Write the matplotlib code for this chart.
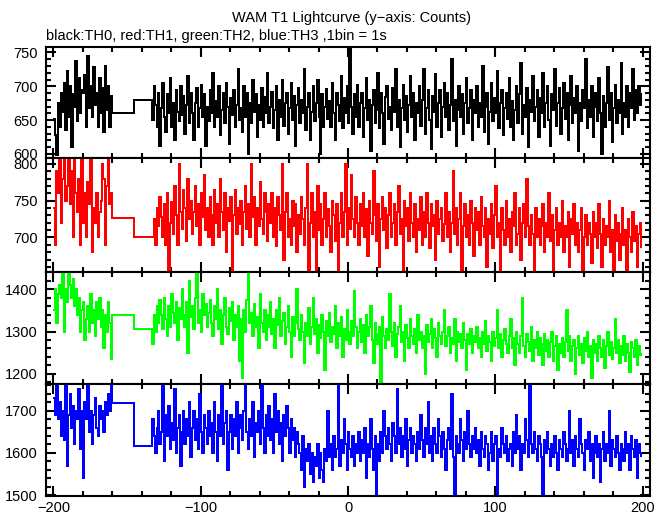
import matplotlib.pyplot as plt
import numpy as np
from matplotlib.ticker import MultipleLocator

plt.rcParams["font.family"] = ["Liberation Sans", "DejaVu Sans"]
plt.rcParams["font.size"] = 10.5

# time bins (1 s), data before the gap, the two filler bins, data after the gap
t_pre = np.arange(-200, -160)
t_gap = np.array([-160, -145])
t_post = np.arange(-133, 200)

black_pre = [652, 628, 598, 676, 640, 690, 662, 705, 635, 722, 655, 700, 610, 688, 670, 738, 648, 712, 660, 695,
             690, 716, 640, 745, 668, 700, 655, 728, 672, 690, 640, 712, 660, 698, 632, 730, 665, 700, 640, 686]
black_gap = [660, 680]
black_post = [
    650, 700, 672, 640, 690, 612, 668, 705, 655, 632, 688, 660, 712, 640, 675, 620, 695, 662, 648, 700,
    658, 685, 630, 672, 715, 645, 690, 660, 620, 676, 698, 640, 668, 702, 655, 688, 612, 670, 648, 694,
    660, 720, 640, 678, 655, 700, 628, 665, 690, 645, 705, 670, 615, 682, 658, 695, 640, 672, 725, 650,
    668, 632, 700, 655, 690, 600, 676, 645, 710, 662, 688, 625, 672, 650, 698, 640, 684, 660, 720, 645,
    670, 692, 638, 665, 700, 620, 680, 655, 710, 642, 675, 690, 630, 668, 705, 650, 685, 612, 672, 698,
    645, 680, 660, 725, 635, 670, 690, 620, 662, 700, 648, 676, 710, 655, 600, 688, 640, 670, 696, 652,
    678, 640, 705, 660, 620, 690, 672, 648, 715, 638, 682, 660, 700, 645, 760, 670, 630, 688, 655, 702,
    640, 675, 690, 625, 668, 712, 650, 680, 605, 672, 695, 645, 665, 720, 638, 690, 660, 615, 684, 700,
    652, 670, 635, 698, 662, 725, 640, 680, 610, 668, 702, 650, 686, 632, 672, 715, 655, 690, 620, 675,
    660, 700, 642, 680, 725, 630, 668, 695, 650, 608, 685, 662, 718, 640, 676, 695, 625, 670, 705, 655,
    690, 635, 672, 740, 648, 680, 612, 665, 700, 655, 688, 630, 675, 712, 645, 668, 695, 620, 680, 660,
    700, 640, 676, 655, 730, 632, 670, 690, 615, 662, 705, 648, 682, 660, 722, 638, 675, 695, 628, 668,
    690, 652, 712, 640, 678, 620, 665, 700, 645, 688, 735, 630, 672, 655, 698, 610, 680, 662, 715, 648,
    670, 695, 625, 682, 660, 720, 640, 675, 700, 650, 612, 688, 665, 725, 642, 676, 698, 630, 668, 705,
    652, 690, 620, 672, 715, 645, 682, 660, 700, 605, 675, 648, 695, 668, 740, 638, 680, 655, 700, 625,
    670, 690, 648, 712, 660, 600, 685, 640, 675, 728, 650, 690, 618, 668, 702, 645, 680, 660, 735, 630,
    676, 655, 700, 640, 690, 668, 725, 650, 695, 660, 700, 672, 690]

red_pre = [740, 690, 790, 760, 815, 720, 780, 810, 750, 770, 820, 745, 790, 700, 810, 760, 735, 780, 690, 805,
           720, 760, 700, 775, 745, 810, 680, 740, 720, 760, 700, 735, 750, 800, 780, 690, 770, 810, 745, 760]
red_gap = [726, 701]
red_post = [
    700, 725, 690, 740, 715, 755, 728, 700, 745, 690, 760, 650, 720, 748, 705, 770, 730, 690, 800, 735,
    712, 765, 740, 695, 780, 725, 750, 705, 735, 770, 715, 745, 690, 760, 728, 785, 710, 740, 700, 755,
    730, 690, 765, 720, 745, 700, 780, 735, 710, 760, 680, 740, 722, 755, 650, 730, 765, 705, 740, 718,
    750, 690, 735, 770, 712, 745, 700, 800, 728, 755, 690, 740, 715, 775, 725, 705, 760, 735, 695, 745,
    720, 760, 700, 740, 688, 755, 730, 710, 800, 670, 735, 760, 700, 725, 690, 750, 715, 745, 680, 730,
    705, 755, 725, 690, 740, 800, 650, 720, 760, 700, 735, 655, 770, 710, 745, 690, 725, 760, 700, 738,
    715, 680, 750, 730, 695, 745, 655, 720, 760, 700, 735, 800, 690, 740, 712, 785, 725, 700, 755, 720,
    690, 745, 715, 760, 700, 738, 675, 750, 720, 705, 790, 730, 695, 745, 660, 725, 755, 710, 740, 685,
    730, 760, 700, 720, 745, 690, 735, 770, 705, 725, 655, 750, 715, 740, 695, 760, 720, 700, 745, 680,
    725, 710, 755, 690, 735, 700, 760, 720, 685, 745, 715, 730, 670, 750, 705, 725, 740, 695, 718, 760,
    700, 735, 680, 720, 790, 705, 740, 690, 725, 760, 655, 715, 745, 700, 730, 690, 750, 720, 675, 740,
    710, 735, 690, 755, 715, 700, 740, 660, 725, 705, 745, 685, 730, 770, 700, 720, 655, 740, 710, 690,
    750, 700, 725, 680, 735, 715, 760, 690, 705, 740, 670, 720, 745, 700, 780, 715, 690, 730, 705, 655,
    740, 700, 725, 690, 715, 745, 680, 720, 700, 760, 695, 730, 655, 710, 740, 690, 720, 700, 750, 680,
    715, 700, 735, 660, 725, 705, 745, 690, 720, 680, 710, 740, 655, 700, 730, 690, 720, 705, 665, 735,
    700, 720, 685, 745, 705, 660, 725, 690, 715, 700, 750, 680, 710, 655, 730, 695, 720, 670, 705, 740,
    690, 710, 655, 725, 700, 680, 735, 695, 715, 660, 705, 720, 685]

green_pre = [1350, 1400, 1320, 1390, 1410, 1380, 1440, 1300, 1400, 1370, 1440, 1410, 1380, 1425, 1360, 1400,
             1340, 1380, 1300, 1350, 1370, 1280, 1330, 1360, 1300, 1390, 1320, 1350, 1290, 1370, 1330, 1380,
             1310, 1350, 1260, 1340, 1300, 1370, 1320, 1235]
green_gap = [1340, 1307]
green_post = [
    1270, 1340, 1300, 1360, 1320, 1375, 1340, 1305, 1380, 1330, 1290, 1360, 1310, 1390, 1345, 1320, 1370, 1280, 1355, 1330,
    1400, 1340, 1310, 1370, 1250, 1420, 1335, 1360, 1305, 1380, 1440, 1320, 1350, 1300, 1390, 1340, 1365, 1310, 1345, 1375,
    1320, 1290, 1360, 1330, 1400, 1305, 1350, 1270, 1340, 1380, 1310, 1295, 1355, 1325, 1370, 1280, 1340, 1310, 1360, 1230,
    1330, 1190, 1350, 1300, 1375, 1440, 1320, 1345, 1290, 1365, 1310, 1335, 1260, 1390, 1320, 1300, 1350, 1280, 1340, 1310,
    1370, 1295, 1330, 1260, 1350, 1315, 1380, 1290, 1325, 1345, 1270, 1310, 1360, 1300, 1240, 1335, 1290, 1320, 1400, 1305,
    1280, 1340, 1300, 1225, 1320, 1290, 1355, 1270, 1310, 1380, 1295, 1330, 1250, 1315, 1285, 1340, 1300, 1210, 1325, 1290,
    1345, 1275, 1310, 1295, 1360, 1260, 1320, 1290, 1335, 1240, 1305, 1280, 1350, 1300, 1270, 1325, 1290, 1395, 1310, 1260,
    1300, 1330, 1275, 1315, 1250, 1340, 1290, 1310, 1360, 1280, 1225, 1320, 1295, 1270, 1310, 1180, 1335, 1290, 1260, 1305,
    1280, 1390, 1300, 1265, 1320, 1240, 1295, 1310, 1360, 1275, 1300, 1230, 1315, 1285, 1260, 1330, 1290, 1270, 1305, 1250,
    1340, 1280, 1300, 1260, 1290, 1200, 1315, 1275, 1295, 1330, 1260, 1305, 1285, 1240, 1320, 1290, 1270, 1300, 1350, 1265,
    1290, 1310, 1250, 1285, 1270, 1330, 1230, 1300, 1275, 1295, 1260, 1320, 1280, 1210, 1295, 1270, 1305, 1250, 1290, 1275,
    1310, 1260, 1285, 1240, 1300, 1270, 1325, 1255, 1290, 1275, 1230, 1300, 1265, 1285, 1350, 1260, 1295, 1240, 1280, 1305,
    1270, 1250, 1290, 1330, 1260, 1285, 1220, 1300, 1270, 1250, 1290, 1380, 1265, 1240, 1295, 1275, 1255, 1310, 1230, 1280,
    1260, 1300, 1245, 1285, 1270, 1220, 1295, 1255, 1280, 1240, 1275, 1300, 1230, 1265, 1290, 1210, 1270, 1250, 1285, 1240,
    1275, 1350, 1255, 1290, 1230, 1265, 1280, 1200, 1260, 1290, 1245, 1270, 1225, 1285, 1255, 1300, 1240, 1265, 1190, 1280,
    1250, 1270, 1230, 1290, 1260, 1240, 1280, 1215, 1265, 1300, 1245, 1275, 1235, 1260, 1330, 1250, 1280, 1225, 1265, 1245,
    1290, 1230, 1270, 1250, 1205, 1275, 1260, 1240, 1280, 1220, 1265, 1245, 1250]

blue_pre = [1730, 1690, 1760, 1680, 1720, 1640, 1700, 1630, 1760, 1570, 1690, 1740, 1660, 1710, 1620, 1700,
            1680, 1750, 1610, 1700, 1540, 1720, 1680, 1760, 1650, 1700, 1620, 1690, 1730, 1660, 1640, 1710,
            1680, 1700, 1650, 1720, 1690, 1740, 1700, 1760]
blue_gap = [1718, 1617]
blue_post = [
    1680, 1640, 1600, 1660, 1700, 1620, 1650, 1760, 1580, 1690, 1640, 1710, 1610, 1670, 1630, 1750, 1600, 1660, 1690, 1570,
    1650, 1700, 1620, 1680, 1640, 1720, 1590, 1660, 1700, 1630, 1680, 1610, 1740, 1650, 1600, 1690, 1660, 1620, 1700, 1640,
    1670, 1600, 1720, 1650, 1580, 1690, 1640, 1760, 1620, 1670, 1700, 1560, 1650, 1690, 1610, 1680, 1640, 1720, 1600, 1660,
    1690, 1630, 1700, 1760, 1650, 1610, 1680, 1640, 1720, 1590, 1670, 1650, 1700, 1620, 1760, 1660, 1600, 1690, 1640, 1710,
    1630, 1680, 1600, 1740, 1650, 1700, 1620, 1670, 1580, 1690, 1640, 1710, 1660, 1600, 1680, 1630, 1660, 1590, 1650, 1620,
    1600, 1560, 1640, 1520, 1610, 1580, 1620, 1550, 1600, 1530, 1590, 1570, 1620, 1540, 1600, 1560, 1530, 1610, 1580, 1700,
    1590, 1620, 1560, 1640, 1590, 1610, 1760, 1570, 1630, 1600, 1680, 1620, 1560, 1650, 1610, 1590, 1640, 1570, 1620, 1600,
    1650, 1580, 1630, 1600, 1660, 1540, 1620, 1590, 1680, 1610, 1560, 1640, 1500, 1620, 1580, 1650, 1600, 1700, 1640, 1610,
    1660, 1620, 1580, 1670, 1640, 1600, 1750, 1620, 1660, 1590, 1640, 1610, 1680, 1570, 1630, 1660, 1600, 1640, 1620, 1580,
    1650, 1610, 1690, 1630, 1590, 1660, 1620, 1720, 1600, 1640, 1580, 1660, 1620, 1600, 1680, 1640, 1590, 1650, 1610, 1560,
    1630, 1660, 1610, 1740, 1590, 1500, 1640, 1620, 1600, 1680, 1630, 1580, 1650, 1610, 1700, 1620, 1590, 1640, 1610, 1660,
    1600, 1630, 1570, 1650, 1610, 1590, 1640, 1620, 1560, 1600, 1650, 1580, 1620, 1640, 1500, 1610, 1590, 1660, 1620, 1600,
    1640, 1580, 1610, 1620, 1570, 1650, 1600, 1690, 1610, 1640, 1560, 1620, 1600, 1680, 1630, 1590, 1760, 1620, 1600, 1650,
    1610, 1580, 1640, 1620, 1590, 1500, 1630, 1600, 1650, 1610, 1570, 1620, 1590, 1640, 1600, 1560, 1630, 1610, 1590, 1650,
    1620, 1580, 1610, 1700, 1600, 1630, 1570, 1640, 1610, 1590, 1680, 1620, 1600, 1560, 1630, 1610, 1650, 1580, 1620, 1540,
    1600, 1640, 1590, 1620, 1530, 1610, 1650, 1580, 1620, 1600, 1700, 1570, 1630, 1610, 1590, 1640, 1600, 1560, 1620, 1610,
    1580, 1650, 1600, 1620, 1560, 1640, 1610, 1590, 1630, 1540, 1620, 1600, 1590]

panels = [
    ("black", black_pre, black_gap, black_post, (594, 758), 50, 10),
    ("#ff0000", red_pre, red_gap, red_post, (653, 808), 50, 10),
    ("#00ff00", green_pre, green_gap, green_post, (1176, 1441), 100, 20),
    ("#0000ff", blue_pre, blue_gap, blue_post, (1498, 1763), 100, 20),
]

fig = plt.figure(figsize=(6.69, 5.15), dpi=100)
tops = [0.9087, 0.6932, 0.4718, 0.2544, 0.0369]
t = np.concatenate([t_pre, t_gap, t_post])

for i, (color, pre, gap, post, ylim, major, minor) in enumerate(panels):
    ax = fig.add_axes([0.0688, tops[i + 1], 0.9028, tops[i] - tops[i + 1]])
    y = np.concatenate([pre, gap, post])
    ax.step(t, y, where="post", color=color, lw=1.1, antialiased=False,
            solid_capstyle="butt", solid_joinstyle="miter")
    ax.set_xlim(-205, 205)
    ax.set_ylim(*ylim)
    ax.xaxis.set_major_locator(MultipleLocator(100))
    ax.xaxis.set_minor_locator(MultipleLocator(20))
    ax.yaxis.set_major_locator(MultipleLocator(major))
    ax.yaxis.set_minor_locator(MultipleLocator(minor))
    ax.tick_params(which="both", direction="in", top=True, right=True, width=1.5, labelsize=10.5)
    ax.tick_params(which="major", length=7)
    ax.tick_params(which="minor", length=3.5)
    ax.tick_params(axis="y", pad=6)
    if i < 3:
        ax.tick_params(labelbottom=False)
    for s in ax.spines.values():
        s.set_linewidth(1.5)

fig.text(0.526, 0.965, "WAM T1 Lightcurve (y\u2212axis: Counts)", ha="center", va="center", fontsize=10.5)
fig.text(0.069, 0.930, "black:TH0, red:TH1, green:TH2, blue:TH3 ,1bin = 1s", ha="left", va="center", fontsize=10.5)

fig.savefig("out.png", dpi=100)
